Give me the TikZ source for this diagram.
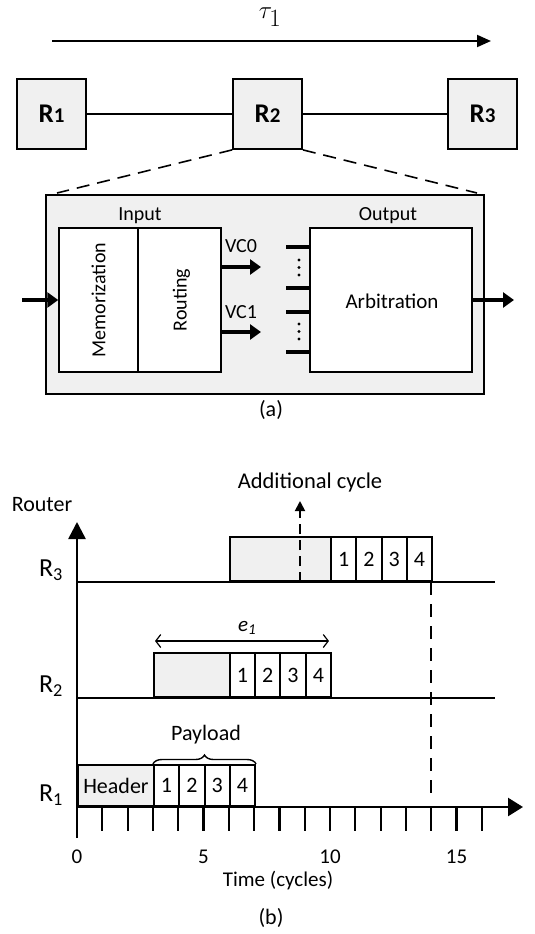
\documentclass[tikz,border=0pt]{standalone}
\usepackage{fontspec}
\setmainfont{Carlito}
\usetikzlibrary{arrows.meta,decorations.pathreplacing}
\definecolor{boxgray}{RGB}{240,240,240}
\begin{document}
\begin{tikzpicture}[x=1pt,y=-1pt,
  rbox/.style={draw,line width=1.8pt,fill=boxgray,minimum width=69pt,minimum height=70pt,inner sep=0pt,font=\fontsize{27}{30}\selectfont\bfseries},
  wbox/.style={draw,line width=1.5pt,fill=white,inner sep=0pt},
  lbl/.style={font=\fontsize{20}{24}\selectfont,inner sep=0pt},
  fat/.style={line width=3.2pt,-{Triangle[length=11pt,width=15pt]}},
  vctick/.style={line width=3.2pt},
  cell/.style={draw,line width=2pt,fill=white,minimum width=25.3pt,minimum height=44pt,inner sep=0pt,anchor=south west,font=\fontsize{22}{26}\selectfont},
  hdr/.style={cell,fill=boxgray},
  base/.style={line width=2.6pt},
  zoomdash/.style={line width=1.6pt,dash pattern=on 13pt off 8pt},
  ]
\useasboundingbox (0,0) rectangle (535,934);
% ---------------- part (a) ----------------
\node[font=\fontsize{34}{38}\selectfont] (tau) at (270,17) {$\tau_{1}$};
\coordinate (ts) at (52,41);
\coordinate (te) at (491,41);
\draw[line width=2pt,-{Triangle[length=14pt,width=12pt]}] (ts) -- (te);

\node[rbox] (R1) at (51.5,114) {R\fontsize{21}{24}\selectfont 1};
\node[rbox] (R2) at (267.5,114) {R\fontsize{21}{24}\selectfont 2};
\node[rbox] (R3) at (482.5,114) {R\fontsize{21}{24}\selectfont 3};
\draw[line width=1.6pt] (R1) -- (R2);
\draw[line width=1.6pt] (R2) -- (R3);

\node[draw,line width=1.8pt,fill=boxgray,minimum width=438pt,minimum height=199pt,inner sep=0pt] (big) at (265,294.5) {};
\coordinate (dl) at (57,193);
\coordinate (dr) at (477,193);
\draw[zoomdash] (R2.south west) -- (dl);
\draw[zoomdash] (R2.south east) -- (dr);

\node[wbox,minimum width=79pt,minimum height=144pt] (mem) at (98.5,300) {};
\node[lbl,rotate=90] at (mem.center) {Memorization};
\node[wbox,minimum width=83pt,minimum height=144pt] (rout) at (179.5,300) {};
\node[lbl,rotate=90] at ([xshift=2pt]rout.center) {Routing};
\node[wbox,minimum width=162pt,minimum height=144pt] (outb) at (391,300) {};
\node[lbl,font=\fontsize{21}{25}\selectfont] (arb) at (392,301) {Arbitration};
\node[lbl] (inl) at (140,216) {Input};
\node[lbl] (outl) at (388,216) {Output};

\node[lbl] (vc0) at (241,246) {VC0};
\node[lbl] (vc1) at (241,312) {VC1};
\coordinate (vc0s) at (221,267);
\coordinate (vc0e) at (261,267);
\coordinate (vc1s) at (221,332);
\coordinate (vc1e) at (261,332);
\draw[fat] (vc0s) -- (vc0e);
\draw[fat] (vc1s) -- (vc1e);

\foreach \yy in {247,288,312,352}{
  \draw[vctick] (286,\yy) -- (310,\yy);
}
\foreach \yy in {260,267.5,275,324,331.5,339}{
  \fill (299,\yy) circle (1.7pt);
}

\coordinate (inA) at (22,300);
\draw[fat] (inA) -- (mem.west);
\coordinate (outA) at (514,300);
\draw[fat] (outb.east) -- (outA);

\node[lbl,font=\fontsize{22}{26}\selectfont] (capa) at (271,410) {(a)};

% ---------------- part (b) ----------------
% time t -> x = 77 + 25.3 t
\node[lbl,font=\fontsize{22}{26}\selectfont] (router) at (42,505) {Router};
\node[lbl,font=\fontsize{26}{30}\selectfont] (lR3) at (51,570) {R\textsubscript{3}};
\node[lbl,font=\fontsize{26}{30}\selectfont] (lR2) at (51,686) {R\textsubscript{2}};
\node[lbl,font=\fontsize{26}{30}\selectfont] (lR1) at (51,795) {R\textsubscript{1}};

% R1 row
\node[hdr,minimum width=75.9pt,minimum height=41pt] (h1) at (77,807) {Header};
\foreach \i in {1,...,4}{
  \pgfmathsetmacro{\xx}{77+25.3*(\i+2)}
  \node[cell,minimum height=41pt] (a\i) at (\xx,807) {\i};
}
% R2 row
\node[hdr,minimum width=75.9pt] (h2) at (152.9,698) {};
\foreach \i in {1,...,4}{
  \pgfmathsetmacro{\xx}{77+25.3*(\i+5)}
  \node[cell] (b\i) at (\xx,698) {\i};
}
% R3 row
\node[hdr,minimum width=101.2pt] (h3) at (228.8,582) {};
\foreach \i in {1,...,4}{
  \pgfmathsetmacro{\xx}{77+25.3*(\i+9)}
  \node[cell] (c\i) at (\xx,582) {\i};
}

% baselines
\coordinate (r3a) at (77,582);
\coordinate (r3b) at (495,582);
\coordinate (r2a) at (77,698);
\coordinate (r2b) at (495,698);
\draw[base] (r3a) -- (r3b);
\draw[base] (r2a) -- (r2b);

% axes
\coordinate (o) at (77,807);
\coordinate (ybot) at (77,838);
\coordinate (ytop) at (77,522);
\coordinate (xend) at (523,807);
\draw[base,-{Triangle[length=17pt,width=17pt]}] (ybot) -- (ytop);
\draw[base,-{Triangle[length=15pt,width=18pt]}] (o) -- (xend);
\foreach \t in {1,...,16}{
  \draw[line width=2.2pt] (77+25.3*\t,807) -- (77+25.3*\t,831);
}
\foreach \t in {0,5,10,15}{
  \node[lbl,font=\fontsize{21}{25}\selectfont] at (77+25.3*\t,857) {\t};
}
\node[lbl,font=\fontsize{21}{25}\selectfont] (tlab) at (278,881) {Time (cycles)};
\node[lbl,font=\fontsize{22}{26}\selectfont] (capb) at (271,918) {(b)};

% payload brace
\draw[line width=1.4pt,decorate,decoration={brace,amplitude=9pt}] (a1.north west) -- (a4.north east);
\node[lbl,font=\fontsize{22}{26}\selectfont] (pay) at (206,735) {Payload};

% e1
\coordinate (e1a) at (155,641);
\coordinate (e1b) at (329,641);
\draw[line width=1.2pt,{Straight Barb[length=5pt,width=13pt]}-{Straight Barb[length=5pt,width=13pt]}] (e1a) -- (e1b);
\node[lbl,font=\itshape\fontsize{21}{24}\selectfont] (e1) at (247,628) {e\raisebox{-3pt}{\fontsize{15}{16}\selectfont 1}};

% additional cycle
\node[lbl,font=\fontsize{22.5}{26}\selectfont] (addc) at (310,482) {Additional cycle};
\coordinate (ac0) at (300,582);
\coordinate (ac1) at (300,501);
\draw[line width=1.8pt,dash pattern=on 10pt off 6pt,-{Triangle[length=10pt,width=10pt]}] (ac0) -- (ac1);

% dashed end line
\coordinate (d14a) at (431.2,582);
\coordinate (d14b) at (431.2,797);
\draw[line width=1.6pt,dash pattern=on 13pt off 9pt] (d14a) -- (d14b);
\end{tikzpicture}
\end{document}
